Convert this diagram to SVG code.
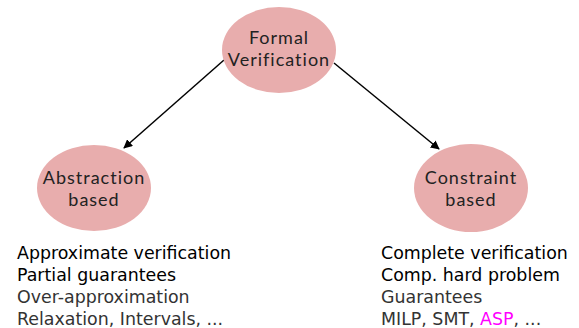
<svg xmlns="http://www.w3.org/2000/svg" width="579" height="328" viewBox="0 0 579 328">
  <style>
    .node ellipse { fill: #e8adad; }
    .label { font-family: "Lato", "Open Sans", "DejaVu Sans", sans-serif; font-size: 18px; font-weight: 400; fill: #222222; text-anchor: middle; letter-spacing: 1px; }
    .list { font-family: "DejaVu Sans", sans-serif; font-size: 17.4px; }
    .dark { fill: #000000; }
    .grey { fill: #333333; }
    .edge { stroke: #000000; stroke-width: 1.5; fill: none; marker-end: url(#arrow); }
  </style>
  <defs>
    <marker id="arrow" viewBox="0 0 10 10" refX="9" refY="5" markerWidth="9" markerHeight="9" markerUnits="userSpaceOnUse" orient="auto">
      <path d="M0,0 L10,5 L0,10 z" fill="#000"/>
    </marker>
  </defs>
  <g id="connectors">
    <line class="edge" x1="224" y1="60" x2="124" y2="148"/>
    <line class="edge" x1="334" y1="63" x2="439" y2="149"/>
  </g>
  <g id="node-formal" class="node">
    <ellipse cx="279" cy="50" rx="57" ry="43"/>
    <text class="label" x="279" y="44">Formal</text>
    <text class="label" x="279" y="66">Verification</text>
  </g>
  <g id="node-abstraction" class="node">
    <ellipse cx="94" cy="188" rx="57" ry="43"/>
    <text class="label" x="94" y="184">Abstraction</text>
    <text class="label" x="94" y="206">based</text>
  </g>
  <g id="node-constraint" class="node">
    <ellipse cx="471" cy="188" rx="57" ry="44"/>
    <text class="label" x="471" y="184">Constraint</text>
    <text class="label" x="471" y="206">based</text>
  </g>
  <g id="list-left" class="list">
    <text class="dark" x="17" y="259">Approximate verification</text>
    <text class="dark" x="17" y="281">Partial guarantees</text>
    <text class="grey" x="17" y="303">Over-approximation</text>
    <text class="grey" x="17" y="325">Relaxation, Intervals, ...</text>
  </g>
  <g id="list-right" class="list">
    <text class="dark" x="381" y="259">Complete verification</text>
    <text class="dark" x="381" y="281">Comp. hard problem</text>
    <text class="grey" x="381" y="303">Guarantees</text>
    <text class="grey" x="381" y="325">MILP, SMT, <tspan fill="#ff00ff">ASP</tspan>, ...</text>
  </g>
</svg>
